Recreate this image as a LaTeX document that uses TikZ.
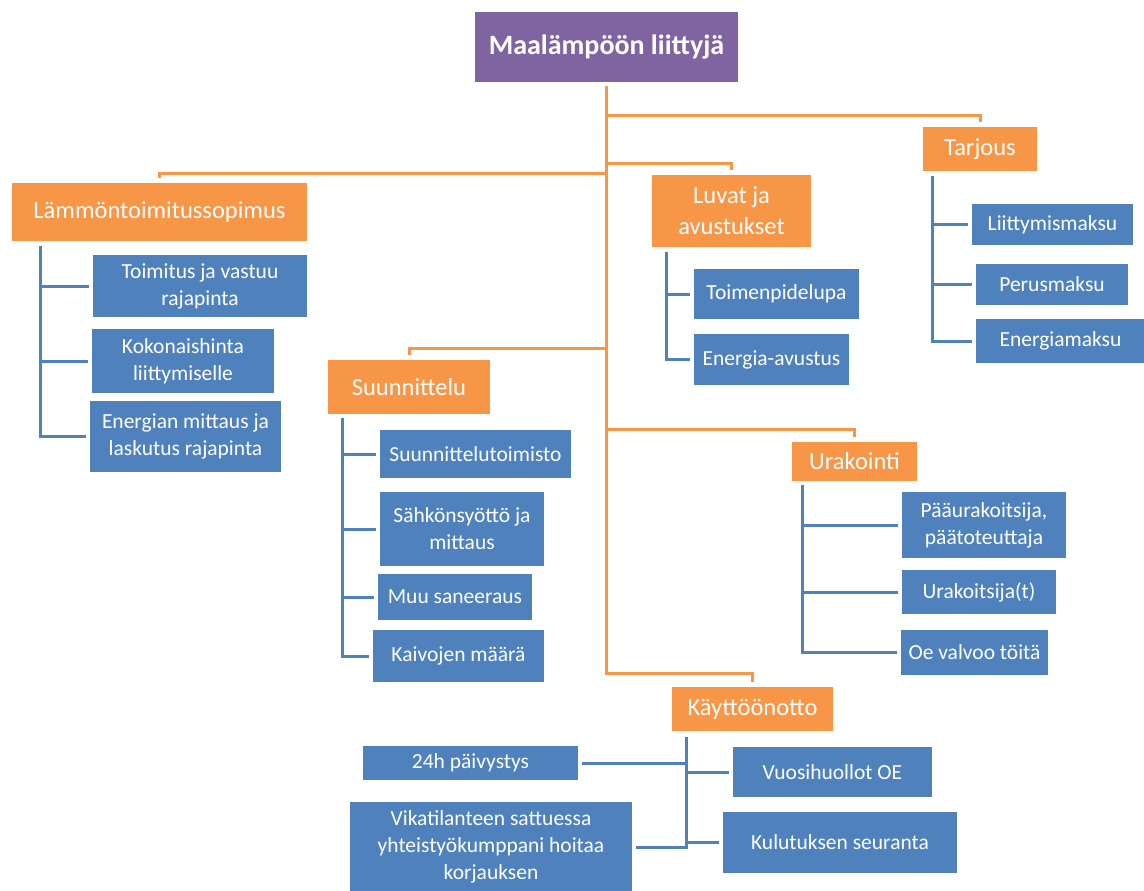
\documentclass[tikz,border=0pt]{standalone}
\usepackage{fontspec}
\setmainfont{Carlito}
\definecolor{ofpurple}{HTML}{8064A2}
\definecolor{oforange}{HTML}{F79646}
\definecolor{ofblue}{HTML}{4F81BD}
\tikzset{
  sz/.style 2 args={minimum width=#1pt,minimum height=#2pt},
  rootbox/.style={fill=ofpurple,text=white,inner sep=0pt,align=center,
    font=\bfseries\fontsize{28}{34}\selectfont},
  topicbox/.style={fill=oforange,text=white,inner sep=0pt,align=center,
    font=\fontsize{24.5}{31}\selectfont},
  itembox/.style={fill=ofblue,text=white,inner sep=0pt,align=center,
    font=\fontsize{21.5}{27}\selectfont},
  trunkline/.style={oforange,line width=3pt,shorten >=5pt},
  spineline/.style={ofblue,line width=3pt,shorten >=4pt}
}
\begin{document}
\begin{tikzpicture}[x=1pt,y=-1pt]
  \useasboundingbox (0,0) rectangle (1144,891);
  % root and topics
  \node[rootbox,sz={263}{70}] (root) at (606.5,47) {Maalämpöön liittyjä};
  \node[topicbox,sz={114}{44}] (tarj) at (980,149) {Tarjous};
  \node[topicbox,sz={295}{58}] (lam) at (159.5,212) {Lämmöntoimitussopimus};
  \node[topicbox,sz={159}{72}] (luvat) at (731.5,211) {Luvat ja\\avustukset};
  \node[topicbox,sz={162}{54}] (suun) at (409,387) {Suunnittelu};
  \node[topicbox,sz={125}{39}] (urak) at (854.5,461.5) {Urakointi};
  \node[topicbox,sz={161}{44}] (kaytto) at (752.5,709) {Käyttöönotto};
  % items
  \node[itembox,sz={214}{62}] (toim) at (200,286) {Toimitus ja vastuu\\rajapinta};
  \node[itembox,sz={182}{64}] (koko) at (183,361) {Kokonaishinta\\liittymiselle};
  \node[itembox,sz={191}{71}] (enmit) at (185.5,436.5) {Energian mittaus ja\\laskutus rajapinta};
  \node[itembox,sz={165}{50}] (toimp) at (776.5,294) {Toimenpidelupa};
  \node[itembox,sz={155}{51}] (enav) at (771.5,359.5) {Energia-avustus};
  \node[itembox,sz={161}{41}] (liitm) at (1052.5,224.5) {Liittymismaksu};
  \node[itembox,sz={152}{41}] (perus) at (1052,284.5) {Perusmaksu};
  \node[itembox,sz={169}{44}] (enmak) at (1060.5,341) {Energiamaksu};
  \node[itembox,sz={191}{48}] (suto) at (475.5,454) {Suunnittelutoimisto};
  \node[itembox,sz={164}{74}] (sahko) at (462,529) {Sähkönsyöttö ja\\mittaus};
  \node[itembox,sz={154}{46}] (muu) at (455,597) {Muu saneeraus};
  \node[itembox,sz={171}{52}] (kaiv) at (458.5,656) {Kaivojen määrä};
  \node[itembox,sz={164}{66}] (paau) at (984,525) {Pääurakoitsija,\\päätoteuttaja};
  \node[itembox,sz={154}{44}] (urt) at (979,592) {Urakoitsija(t)};
  \node[itembox,sz={147}{45}] (oeval) at (974.5,652.5) {Oe valvoo töitä};
  \node[itembox,sz={215}{34}] (paiv) at (470.5,763) {24h päivystys};
  \node[itembox,sz={282}{90}] (vika) at (491,847) {Vikatilanteen sattuessa\\yhteistyökumppani hoitaa\\korjauksen};
  \node[itembox,sz={199}{50}] (vuosi) at (832.5,772) {Vuosihuollot OE};
  \node[itembox,sz={234}{61}] (kulu) at (840,842.5) {Kulutuksen seuranta};
  % orange trunk
  \coordinate (trunkend) at (root.south |- 0,673);
  \draw[trunkline,shorten <=4pt] (root.south) -- (trunkend) -| (kaytto.north);
  \draw[trunkline] (root.south |- 0,115) -| (tarj.north);
  \draw[trunkline] (root.south |- 0,173) -| (lam.north);
  \draw[trunkline] (root.south |- 0,163) -| (luvat.north);
  \draw[trunkline] (root.south |- 0,348) -| (suun.north);
  \draw[trunkline] (root.south |- 0,429) -| (urak.north);
  % blue spines
  \coordinate (lamtop) at ([xshift=29pt,yshift=-5pt]lam.south west);
  \coordinate (luvtop) at ([xshift=15pt,yshift=-5pt]luvat.south west);
  \coordinate (tartop) at ([xshift=10pt,yshift=-5pt]tarj.south west);
  \coordinate (suutop) at ([xshift=15pt,yshift=-4pt]suun.south west);
  \coordinate (uratop) at ([xshift=11pt,yshift=-4pt]urak.south west);
  \coordinate (kaytop) at ([xshift=15pt,yshift=-6pt]kaytto.south west);
  \foreach \c in {toim,koko,enmit} \draw[spineline] (lamtop) |- (\c.west);
  \foreach \c in {toimp,enav} \draw[spineline] (luvtop) |- (\c.west);
  \foreach \c in {liitm,perus,enmak} \draw[spineline] (tartop) |- (\c.west);
  \foreach \c in {suto,sahko,muu,kaiv} \draw[spineline] (suutop) |- (\c.west);
  \foreach \c in {paau,urt,oeval} \draw[spineline] (uratop) |- (\c.west);
  \foreach \c in {vuosi,kulu} \draw[spineline] (kaytop) |- (\c.west);
  \foreach \c in {paiv,vika} \draw[spineline] (kaytop) |- (\c.east);
\end{tikzpicture}
\end{document}
